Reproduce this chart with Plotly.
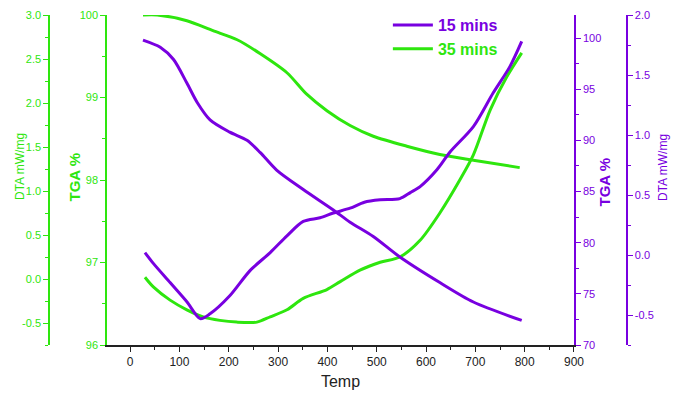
import plotly.graph_objects as go

GREEN = '#2ee60e'
PURPLE = '#7800e0'

# temperatures
temp_tga35 = [26, 55, 115, 168, 217, 264, 318, 358, 399, 446, 493, 561, 628, 696, 790]
tga35 = [100.0, 100.0, 99.93, 99.81, 99.70, 99.53, 99.30, 99.04, 98.84, 98.66, 98.53, 98.41, 98.31, 98.24, 98.15]

temp_dta35 = [30, 47, 81, 115, 148, 182, 216, 257, 284, 318, 351, 399, 426, 466, 507, 547, 588, 628, 669, 696, 730, 764, 794]
dta35 = [0.02, -0.09, -0.24, -0.35, -0.43, -0.47, -0.49, -0.49, -0.43, -0.35, -0.22, -0.12, -0.03,
         0.10, 0.19, 0.25, 0.44, 0.75, 1.13, 1.41, 1.92, 2.30, 2.57]

temp_tga15 = [26, 61, 88, 115, 136, 162, 202, 237, 264, 297, 351, 412, 446, 493, 547, 628, 696, 794]
tga15 = [99.8, 99.1, 97.9, 95.6, 93.7, 92.0, 90.8, 90.0, 88.8, 87.1, 85.2, 83.2, 82.0, 80.6, 78.6, 76.1, 74.2, 72.4]

temp_dta15 = [30, 47, 81, 115, 142, 162, 202, 243, 284, 318, 351, 385, 412, 446, 475, 507, 547, 568, 588,
              622, 649, 696, 736, 770, 794]
dta15 = [0.02, -0.07, -0.23, -0.39, -0.53, -0.49, -0.34, -0.13, 0.02, 0.16, 0.28, 0.31, 0.35, 0.39,
         0.44, 0.46, 0.47, 0.52, 0.57, 0.71, 0.86, 1.07, 1.35, 1.57, 1.78]

x_ticks = [0, 100, 200, 300, 400, 500, 600, 700, 800, 900]
dta_left_ticks = [-0.5, 0.0, 0.5, 1.0, 1.5, 2.0, 2.5, 3.0]
dta_right_ticks = [-0.5, 0.0, 0.5, 1.0, 1.5, 2.0]

def lbl(v):
    return ('%.1f' % v)

fig = go.Figure()
fig.add_trace(go.Scatter(x=temp_tga15, y=tga15, yaxis='y3', mode='lines',
                         line=dict(color=PURPLE, width=3, shape='spline', smoothing=0.8),
                         name='<span style="color:%s"><b>15 mins</b></span>' % PURPLE, legendgroup='15'))
fig.add_trace(go.Scatter(x=temp_dta15, y=dta15, yaxis='y4', mode='lines',
                         line=dict(color=PURPLE, width=3, shape='spline', smoothing=0.8),
                         showlegend=False, legendgroup='15'))
fig.add_trace(go.Scatter(x=temp_tga35, y=tga35, yaxis='y', mode='lines',
                         line=dict(color=GREEN, width=3, shape='spline', smoothing=0.8),
                         name='<span style="color:%s"><b>35 mins</b></span>' % GREEN, legendgroup='35'))
fig.add_trace(go.Scatter(x=temp_dta35, y=dta35, yaxis='y2', mode='lines',
                         line=dict(color=GREEN, width=3, shape='spline', smoothing=0.8),
                         showlegend=False, legendgroup='35'))

tick_font = dict(family='Liberation Sans, Arial', size=11)

# the page body adds an 8px margin, so the figure is 8px smaller than the window
fig.update_layout(
    width=677, height=398,
    margin=dict(l=32, r=40, t=7, b=61, autoexpand=False),
    plot_bgcolor='white', paper_bgcolor='white',
    showlegend=True,
    legend=dict(x=0.575, y=1.021, xanchor='left', yanchor='top', bgcolor='rgba(0,0,0,0)',
                font=dict(family='Liberation Sans, Arial', size=16), tracegroupgap=0, itemwidth=40),
    xaxis=dict(domain=[0.1107, 0.8826], range=[-47, 900], tickvals=x_ticks, showline=True, linecolor='#222',
               linewidth=1.5, ticks='outside', ticklen=5, tickcolor='#222', showgrid=False, zeroline=False,
               minor=dict(dtick=50, tick0=0, ticks='outside', ticklen=3, tickcolor='#222'),
               tickfont=dict(tick_font, color='#222', size=12),
               title=dict(text='Temp', font=dict(family='Liberation Sans, Arial', size=16, color='#222'), standoff=8)),
    yaxis=dict(range=[96, 100], dtick=1, showline=True, linecolor=GREEN, linewidth=1.5, ticks='outside',
               ticklen=5, tickcolor=GREEN, showgrid=False, zeroline=False, tickfont=dict(tick_font, color=GREEN),
               minor=dict(dtick=0.5, ticks='outside', ticklen=3, tickcolor=GREEN)),
    yaxis2=dict(range=[-0.75, 3.0], overlaying='y', anchor='free', position=0.0149, side='left',
                tickvals=dta_left_ticks, ticktext=[lbl(v) for v in dta_left_ticks],
                showline=True, linecolor=GREEN, linewidth=1.5, ticks='outside', ticklen=5, tickcolor=GREEN,
                showgrid=False, zeroline=False, tickfont=dict(tick_font, color=GREEN),
                minor=dict(dtick=0.25, tick0=0, ticks='outside', ticklen=3, tickcolor=GREEN)),
    yaxis3=dict(range=[70, 102.25], dtick=5, overlaying='y', anchor='x', side='right',
                showline=True, linecolor=PURPLE, linewidth=1.5, ticks='outside', ticklen=5, tickcolor=PURPLE,
                showgrid=False, zeroline=False, tickfont=dict(tick_font, color=PURPLE),
                minor=dict(dtick=2.5, tick0=0, ticks='outside', ticklen=3, tickcolor=PURPLE)),
    yaxis4=dict(range=[-0.75, 2.0], overlaying='y', anchor='free', position=0.970, side='right',
                tickvals=dta_right_ticks, ticktext=[lbl(v) for v in dta_right_ticks],
                showline=True, linecolor=PURPLE, linewidth=1.5, ticks='outside', ticklen=5, tickcolor=PURPLE,
                showgrid=False, zeroline=False, tickfont=dict(tick_font, color=PURPLE),
                minor=dict(dtick=0.25, tick0=0, ticks='outside', ticklen=3, tickcolor=PURPLE)),
)

# axis titles placed by hand so they sit where the original ones are
titles = [
    ('DTA mW/mg', 11, 167, GREEN, 12, False),
    ('TGA %', 63, 177, GREEN, 15, True),
    ('TGA %', 614, 182, PURPLE, 15, True),
    ('DTA mW/mg', 672, 168, PURPLE, 12, False),
]
for txt, px, py, col, sz, bold in titles:
    fig.add_annotation(text='<b>%s</b>' % txt if bold else txt, xref='paper', yref='paper',
                       x=(px - 40) / 605, y=(345 - py) / 330, showarrow=False, textangle=-90,
                       font=dict(family='Liberation Sans, Arial', size=sz, color=col))

fig.write_html("out.html")
